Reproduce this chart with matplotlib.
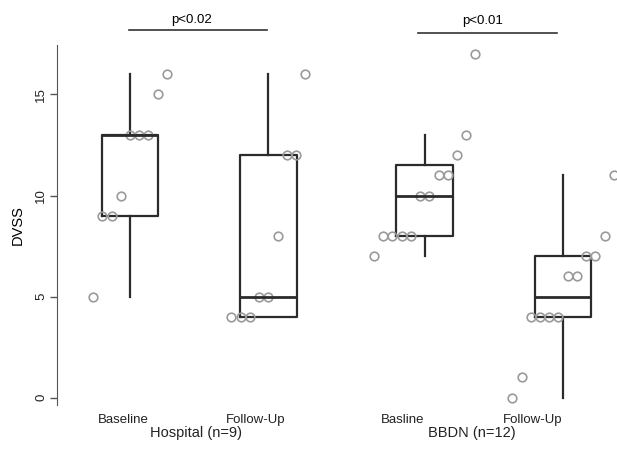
import numpy as np
import matplotlib.pyplot as plt

plt.rcParams['font.family'] = ['Liberation Sans', 'DejaVu Sans']

# DVSS scores
hosp_base = [5, 9, 9, 10, 13, 13, 13, 15, 16]
hosp_follow = [4, 4, 4, 5, 5, 8, 12, 12, 16]
bbdn_base = [7, 8, 8, 8, 8, 10, 10, 11, 11, 12, 13, 17]
bbdn_follow = [0, 1, 4, 4, 4, 4, 6, 6, 7, 7, 8, 11]

groups = [hosp_base, hosp_follow, bbdn_base, bbdn_follow]
tick_labels = ["Baseline", "Follow-Up", "Basline", "Follow-Up"]
group_labels = ["Hospital (n=9)", "BBDN (n=12)"]
p_labels = ["p<0.02", "p<0.01"]

positions = [1, 2, 3.13, 4.13]
label_x = [0.95, 1.905, 2.967, 3.907]
group_x = [1.477, 3.473]


def fivenum_stats(vals, label):
    # Tukey hinges like R's boxplot
    x = np.sort(np.asarray(vals, dtype=float))
    n = len(x)
    n4 = np.floor((n + 3) / 2) / 2
    d = np.array([1, n4, (n + 1) / 2, n + 1 - n4, n]) - 1
    fn = 0.5 * (x[np.floor(d).astype(int)] + x[np.ceil(d).astype(int)])
    iqr = fn[3] - fn[1]
    lo = x[x >= fn[1] - 1.5 * iqr].min()
    hi = x[x <= fn[3] + 1.5 * iqr].max()
    return dict(med=fn[2], q1=fn[1], q3=fn[3], whislo=lo, whishi=hi, fliers=[], label=label)


fig = plt.figure(figsize=(6.17, 4.55), dpi=100)
ax = fig.add_axes([57 / 617, 50 / 455, 560 / 617, 360 / 455])

stats = [fivenum_stats(g, l) for g, l in zip(groups, tick_labels)]
line = dict(color="#2b2b2b", linewidth=1.6)
ax.bxp(stats, positions=positions, widths=0.41, showcaps=False, showfliers=False,
       boxprops=line, whiskerprops=line, medianprops=dict(color="#2b2b2b", linewidth=2.0))

# points spread out in rank order around each box
for g, pos in zip(groups, positions):
    v = np.sort(g)
    off = (np.arange(len(v)) - (len(v) - 1) / 2) / 15.0
    ax.plot(pos + off, v, "o", mfc="none", mec="#9a9a9a", mew=1.2, ms=6.2, clip_on=False)

ax.set_xlim(0.472, 4.52)
ax.set_ylim(-0.37, 17.45)
ax.set_yticks([0, 5, 10, 15])
ax.set_yticklabels(["0", "5", "10", "15"], rotation=90, va="center", fontsize=9.5, color="#222222")
ax.tick_params(axis="y", length=5, width=1, color="#555555", pad=2)
ax.set_xticks([])
for s in ["top", "right", "bottom"]:
    ax.spines[s].set_visible(False)
ax.spines["left"].set_color("#555555")
ax.set_ylabel("DVSS", fontsize=10.5)
ax.yaxis.set_label_coords(-0.058, 0.5)

for x, t in zip(label_x, tick_labels):
    ax.text(x, -1.11, t, ha="center", va="center", fontsize=9.5, color="#222222", clip_on=False)
for x, t in zip(group_x, group_labels):
    ax.text(x, -1.76, t, ha="center", va="center", fontsize=10.5, color="#222222", clip_on=False)

# significance bars
ax.plot([0.993, 1.99], [18.19, 18.19], color="#333333", lw=1.2, clip_on=False)
ax.plot([3.08, 4.085], [18.04, 18.04], color="#333333", lw=1.2, clip_on=False)
ax.text(1.448, 18.69, p_labels[0], ha="center", va="center", fontsize=9.5, clip_on=False)
ax.text(3.545, 18.64, p_labels[1], ha="center", va="center", fontsize=9.5, clip_on=False)

fig.savefig("out.png", dpi=100)
